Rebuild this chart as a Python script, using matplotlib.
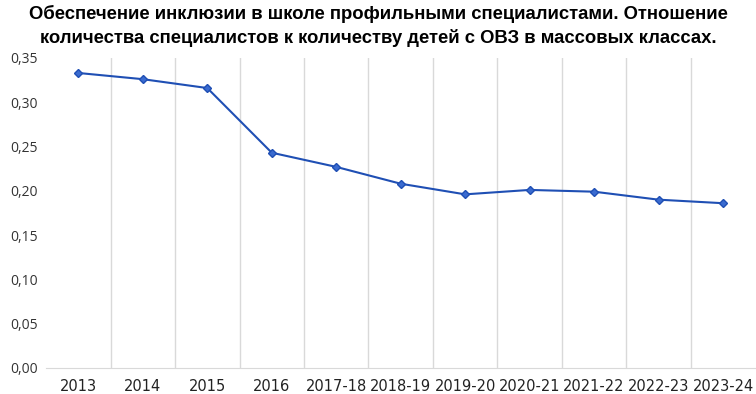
import matplotlib.pyplot as plt

# Data
years = ["2013", "2014", "2015", "2016", "2017-18", "2018-19", "2019-20",
         "2020-21", "2021-22", "2022-23", "2023-24"]
ratio = [0.333, 0.326, 0.316, 0.243, 0.227, 0.208, 0.196, 0.201, 0.199, 0.190, 0.186]
yticks = [0.0, 0.05, 0.10, 0.15, 0.20, 0.25, 0.30, 0.35]

fig = plt.figure(figsize=(7.56, 3.94), dpi=100)
ax = fig.add_axes([0.061, 0.066, 0.938, 0.787])

x = list(range(len(years)))
ax.plot(x, ratio, color="#1F4FB4", lw=1.5, marker="D", ms=4.5,
        markerfacecolor="#3A6BD0", markeredgecolor="#1F4FB4", zorder=3)

ax.set_xlim(-0.5, len(years) - 0.5)
ax.set_ylim(0, 0.35)
ax.set_yticks(yticks)
ax.set_yticklabels([f"{v:.2f}".replace(".", ",") for v in yticks])
ax.set_xticks(x)
ax.set_xticklabels(years, fontsize=10.5, fontfamily="DejaVu Sans", color="#222222")
for lab in ax.get_yticklabels():
    lab.set_fontsize(10)
    lab.set_fontfamily("Open Sans")
    lab.set_color("#333333")

# vertical gridlines between categories
for b in range(1, len(years)):
    ax.axvline(b - 0.5, color="#D9D9D9", lw=1, zorder=1)

for s in ["top", "right", "left"]:
    ax.spines[s].set_visible(False)
ax.spines["bottom"].set_color("#D9D9D9")
ax.tick_params(length=0, pad=8)
ax.tick_params(axis="y", pad=6)

fig.suptitle("Обеспечение инклюзии в школе профильными специалистами. Отношение\n"
             "количества специалистов к количеству детей с ОВЗ в массовых классах.",
             fontsize=13.3, fontweight="bold", fontfamily="Liberation Sans",
             y=0.987, linespacing=1.4)

fig.savefig("out.png", dpi=100)
